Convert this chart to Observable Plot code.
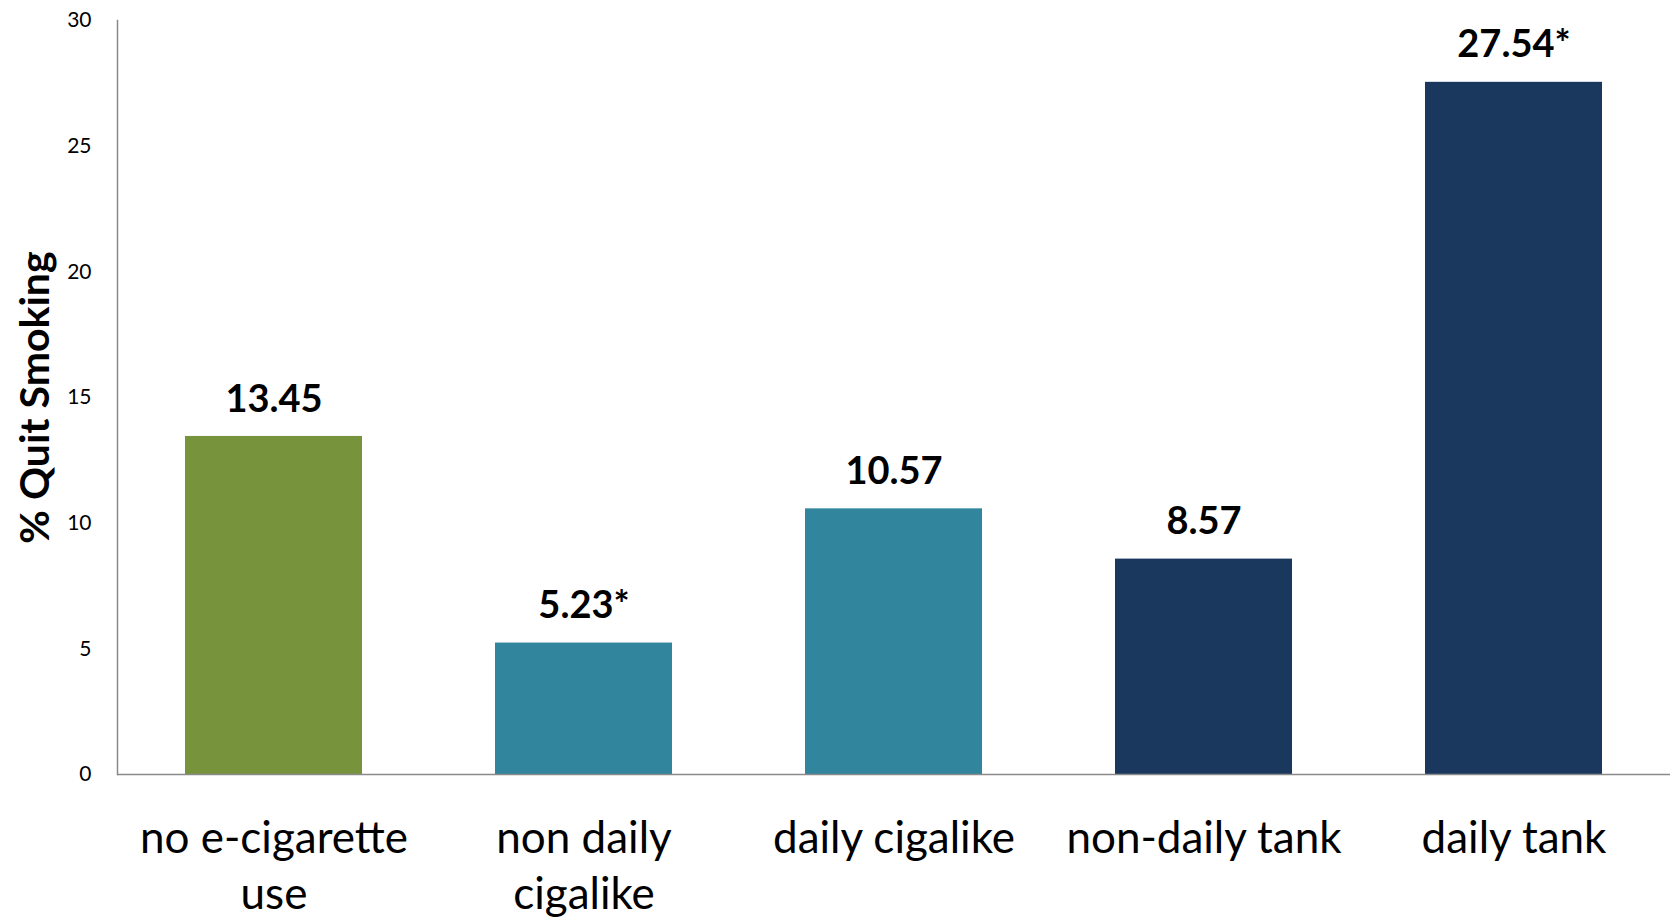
<!DOCTYPE html>
<html>
<head>
<meta charset="utf-8">
<script src="https://cdn.jsdelivr.net/npm/d3@7"></script>
<script src="https://cdn.jsdelivr.net/npm/@observablehq/plot@0.6"></script>
<style>
  html, body { margin: 0; padding: 0; background: #fff; }
  #chart svg { display: block; }
</style>
</head>
<body>
<div id="chart"></div>
<script>
// Quit-smoking rates by e-cigarette use pattern
const categories = ["no e-cigarette use", "non daily cigalike", "daily cigalike", "non-daily tank", "daily tank"];
const tickLabels = ["no e-cigarette\nuse", "non daily\ncigalike", "daily cigalike", "non-daily tank", "daily tank"];
const quitPercent = [13.45, 5.23, 10.57, 8.57, 27.54];
const significant = [false, true, false, false, true];
const deviceGroup = ["none", "cigalike", "cigalike", "tank", "tank"];
const groupNames = ["none", "cigalike", "tank"];
const groupColors = ["#77933c", "#31859c", "#1a375e"];
const yTicks = [0, 5, 10, 15, 20, 25, 30];
const yTitle = "% Quit Smoking";

const rows = categories.map((category, i) => ({
  category,
  value: quitPercent[i],
  group: deviceGroup[i],
  label: quitPercent[i].toFixed(2) + (significant[i] ? "*" : "")
}));

const axisGray = "#8a8a8a";

const chart = Plot.plot({
  width: 1673,
  height: 918,
  marginTop: 20,
  marginBottom: 144,
  marginLeft: 117,
  marginRight: 3,
  style: { fontFamily: "Lato, sans-serif", background: "#fff", color: "#000" },
  x: { domain: categories, paddingInner: 0.43, paddingOuter: 0.218 },
  y: { domain: [0, 30] },
  color: { domain: groupNames, range: groupColors },
  marks: [
    Plot.barY(rows, { x: "category", y: "value", fill: "group" }),
    Plot.ruleY([0], { stroke: axisGray, strokeWidth: 1.5 }),
    Plot.frame({ anchor: "left", stroke: axisGray, strokeWidth: 1.5 }),
    Plot.axisY(yTicks, { tickSize: 0, tickPadding: 26, fontSize: 21, label: null }),
    Plot.axisX(categories, {
      tickSize: 0,
      tickPadding: 38,
      fontSize: 44,
      lineHeight: 1.28,
      tickFormat: (d) => tickLabels[categories.indexOf(d)],
      label: null
    }),
    Plot.text(rows, {
      x: "category", y: "value", text: "label",
      dy: -37, lineAnchor: "middle", fontSize: 38, fontWeight: "bold", fill: "#000"
    }),
    Plot.text([yTitle], {
      frameAnchor: "left", textAnchor: "middle", lineAnchor: "middle",
      rotate: -90, dx: -82,
      fontSize: 41, fontWeight: "bold", fill: "#000"
    })
  ]
});

document.getElementById("chart").appendChild(chart);
</script>
</body>
</html>
